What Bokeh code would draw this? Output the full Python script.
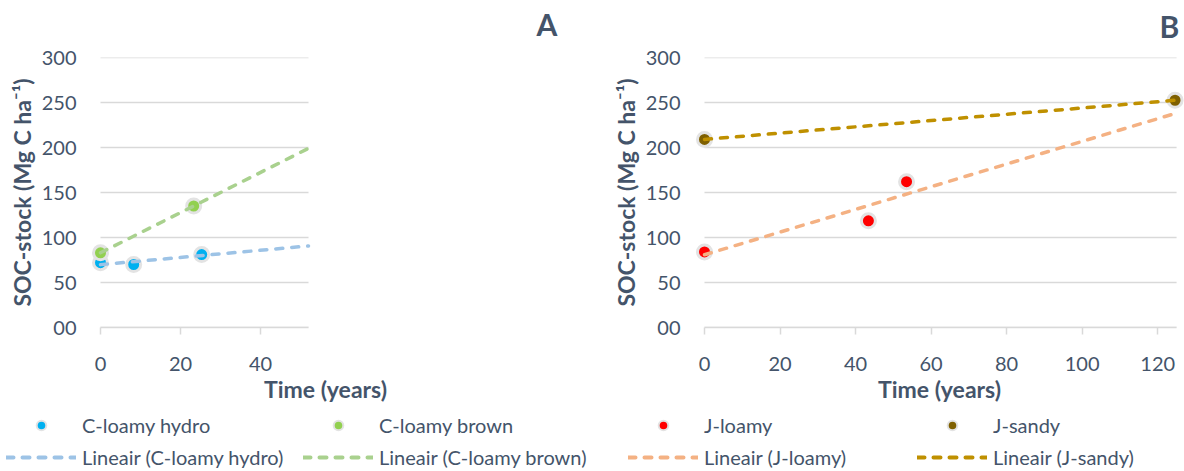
import numpy as np
from bokeh.plotting import figure
from bokeh.models import FixedTicker, Legend, LegendItem, Range1d, Label
from bokeh.layouts import column, row
from bokeh.embed import file_html
from bokeh.resources import INLINE

# ---------------- data ----------------
hydro_t = [0, 8.3, 25.3]
hydro_soc = [72, 70, 81]
brown_t = [0, 23.3]
brown_soc = [83, 135]
jloamy_t = [0, 43.4, 53.5]
jloamy_soc = [84, 118.5, 162]
jsandy_t = [0, 124.6]
jsandy_soc = [209, 252.5]

y_ticks = [0, 50, 100, 150, 200, 250, 300]
y_tick_labels = ["00", "50", "100", "150", "200", "250", "300"]
xA_ticks = [0, 20, 40]
xB_ticks = [0, 20, 40, 60, 80, 100, 120]
xA_max = 52
xB_max = 125

names = ["C-loamy hydro", "C-loamy brown", "J-loamy", "J-sandy"]
trend_names = ["Lineair (C-loamy hydro)", "Lineair (C-loamy brown)",
               "Lineair (J-loamy)", "Lineair (J-sandy)"]
point_colors = ["#00B0F0", "#92D050", "#FF0000", "#7F6000"]
trend_colors = ["#9DC3E6", "#A9D18E", "#F4B183", "#BF9000"]
panel_letters = ["A", "B"]

y_title = "SOC-stock (Mg C ha\u207b\u00b9)"
x_title = "Time (years)"

# ---------------- style ----------------
TXT = "#44546A"
GRID = "#D9D9D9"
HALO = "#E3E3E3"
FONT = "Lato"
DASH = "7 9"


def trend(t, s, xmax):
    k, b = np.polyfit(t, s, 1)
    return [0, xmax], [b, b + k * xmax]


def make_panel(width, height, bl, br, bt, bb, xstart, xend, xmax, xticks):
    p = figure(width=width, height=height,
               min_border_left=bl, min_border_right=br,
               min_border_top=bt, min_border_bottom=bb,
               x_range=Range1d(xstart, xend), y_range=Range1d(0, 300),
               output_backend="svg", toolbar_location=None)
    p.outline_line_color = None
    p.background_fill_color = "white"
    p.border_fill_color = "white"
    p.grid.visible = False
    # horizontal gridlines from the tick list, spanning 0..xmax
    p.segment(x0=[0] * len(y_ticks), x1=[xmax] * len(y_ticks),
              y0=y_ticks, y1=y_ticks, line_color=GRID, line_width=1.5)
    p.yaxis.ticker = FixedTicker(ticks=y_ticks)
    p.yaxis.major_label_overrides = {t: l for t, l in zip(y_ticks, y_tick_labels)}
    p.yaxis.axis_line_color = None
    p.yaxis.major_tick_line_color = None
    p.yaxis.major_tick_out = 0
    p.yaxis.major_tick_in = 0
    p.yaxis.minor_tick_line_color = None
    p.yaxis.minor_tick_out = 0
    p.yaxis.major_label_standoff = 14
    p.yaxis.axis_label = y_title
    p.yaxis.axis_label_standoff = 3
    p.xaxis.ticker = FixedTicker(ticks=xticks)
    p.xaxis.bounds = (0, xmax)
    p.xaxis.axis_line_color = GRID
    p.xaxis.axis_line_width = 1.5
    p.xaxis.major_tick_line_color = GRID
    p.xaxis.major_tick_line_width = 1.5
    p.xaxis.major_tick_out = 7
    p.xaxis.major_tick_in = 0
    p.xaxis.minor_tick_line_color = None
    p.xaxis.major_label_standoff = 22
    p.xaxis.axis_label = x_title
    p.xaxis.axis_label_standoff = 1
    for ax in (p.xaxis, p.yaxis):
        ax.major_label_text_font = FONT
        ax.major_label_text_font_size = "20px"
        ax.major_label_text_color = TXT
        ax.axis_label_text_font = FONT
        ax.axis_label_text_font_style = "bold"
        ax.axis_label_text_font_size = "23px"
        ax.axis_label_text_color = TXT
    return p


# ---------------- top strip with the panel letters ----------------
pT = figure(width=1184, height=43, x_range=Range1d(0, 1184), y_range=Range1d(43, 0),
            min_border=0, output_backend="svg", toolbar_location=None)
pT.axis.visible = False
pT.grid.visible = False
pT.outline_line_color = None
for letter, lx, ly in zip(panel_letters, [546.5, 1169], [23, 25]):
    pT.add_layout(Label(x=lx, y=ly, text=letter, text_font=FONT,
                        text_font_style="bold", text_font_size="30px",
                        text_color=TXT, text_align="center",
                        text_baseline="middle"))

# ---------------- the two panels ----------------
# panel A: frame 90..560 (x -2.5..115); data, grid and axis only on 0..52
pA = make_panel(600, 362, 90, 40, 12, 71, -2.5, 115, xA_max, xA_ticks)
# panel B: frame 694..1184 (x -2.65..127.1); data, grid and axis on 0..125
pB = make_panel(584, 362, 94, 0, 14, 70, -2.65, 127.1, xB_max, xB_ticks)

series = [(pA, hydro_t, hydro_soc, xA_max, 0),
          (pA, brown_t, brown_soc, xA_max, 1),
          (pB, jloamy_t, jloamy_soc, xB_max, 2),
          (pB, jsandy_t, jsandy_soc, xB_max, 3)]

for p, t, s, xmax, i in series:
    p.scatter(t, s, size=14, fill_color=point_colors[i],
              line_color=HALO, line_width=3)
for p, t, s, xmax, i in series:
    tx, ty = trend(t, s, xmax)
    p.line(tx, ty, line_color=trend_colors[i], line_width=3.5,
           line_dash=DASH, line_cap="round")

# ---------------- legend strip ----------------
# the strip's ranges are far from the data, so its renderers only feed the legend
pL = figure(width=1184, height=66, x_range=Range1d(1000, 1001),
            y_range=Range1d(1000, 1001), min_border=0,
            output_backend="svg", toolbar_location=None)
pL.axis.visible = False
pL.grid.visible = False
pL.outline_line_color = None

leg_x = [6, 303, 628, 917]
for p, t, s, xmax, i in series:
    rs = pL.scatter(t, s, fill_color=point_colors[i], line_color=HALO, line_width=2)
    tx, ty = trend(t, s, xmax)
    rl = pL.line(tx, ty, line_color=trend_colors[i], line_width=4,
                 line_dash=DASH, line_cap="round")
    lg = Legend(items=[LegendItem(label=names[i], renderers=[rs]),
                       LegendItem(label=trend_names[i], renderers=[rl])],
                location=(leg_x[i], 2), orientation="vertical",
                glyph_width=70, glyph_height=24, label_height=24,
                label_standoff=6, spacing=8, padding=0, margin=0,
                border_line_color=None, background_fill_alpha=0,
                label_text_font=FONT, label_text_font_size="20px",
                label_text_color=TXT)
    pL.add_layout(lg)

layout = column(pT, row(pA, pB), pL)
open("out.html", "w").write(file_html(layout, INLINE))
